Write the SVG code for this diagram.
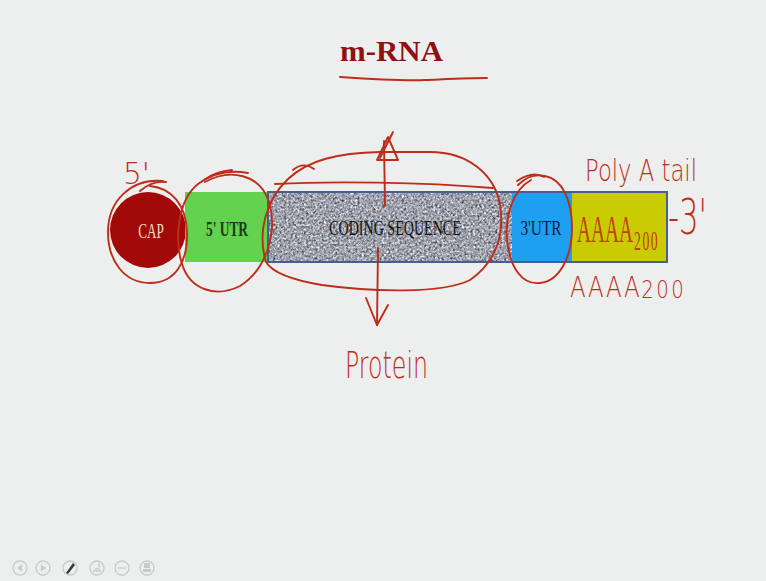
<svg xmlns="http://www.w3.org/2000/svg" width="766" height="581" viewBox="0 0 766 581">
  <defs>
    <!-- speckled grey texture for the coding region -->
    <filter id="grain" x="0" y="0" width="100%" height="100%" color-interpolation-filters="sRGB">
      <feTurbulence type="fractalNoise" baseFrequency="0.45" numOctaves="2" seed="7" result="n"/>
      <feColorMatrix in="n" type="matrix" values="0.6 0.6 0.6 0 -0.28  0.6 0.6 0.6 0 -0.27  0.6 0.6 0.6 0 -0.23  0 0 0 0 1" result="g"/>
      <feComposite in="g" in2="SourceGraphic" operator="in"/>
    </filter>
    <style>
      .slide { font-family: "Liberation Serif", "Times New Roman", serif; }
      .seg { font-size: 22px; text-anchor: middle; }
      .ink { fill: none; stroke: #BE2C1A; stroke-width: 1.9; stroke-linecap: round; stroke-linejoin: round; }
      .hand { font-family: "DejaVu Sans", "Liberation Sans", sans-serif; font-weight: 200; fill: #BE2C1A; }
      .tool { fill: none; stroke: #C9CBCA; stroke-width: 1.3; }
      .toolglyph { fill: #C9CBCA; }
    </style>
  </defs>

  <!-- background -->
  <rect x="0" y="0" width="766" height="581" fill="#EDEFEE"/>

  <!-- title -->
  <g id="title">
    <text class="slide" x="340" y="61" font-size="29" font-weight="bold" fill="#8E1212" textLength="103" lengthAdjust="spacingAndGlyphs">m-RNA</text>
  </g>

  <!-- mRNA segments -->
  <g id="cap">
    <circle cx="148" cy="230" r="38" fill="#A20A0A"/>
    <text class="slide seg" transform="translate(151,238) scale(0.6,1)" font-size="25" fill="#F3DCCB">CAP</text>
  </g>

  <g id="utr5">
    <rect x="185" y="192" width="83" height="70" fill="#63D24E"/>
    <text class="slide seg" transform="translate(227,236) scale(0.61,1)" font-weight="bold" fill="#1B3A1B">5' UTR</text>
  </g>

  <g id="coding">
    <rect x="268" y="192" width="244" height="70" fill="#A2A5AC"/>
    <rect x="268" y="192" width="244" height="70" fill="#fff" filter="url(#grain)"/>
    <text class="slide seg" transform="translate(395,235) scale(0.64,1)" fill="#101214">CODING SEQUENCE</text>
  </g>

  <g id="utr3">
    <rect x="512" y="192" width="60" height="70" fill="#1E9FF0"/>
    <text class="slide seg" transform="translate(541,235) scale(0.7,1)" fill="#0C1C40">3'UTR</text>
  </g>

  <g id="polya">
    <rect x="572" y="192" width="95" height="70" fill="#C9CC02"/>
    <text class="slide" transform="translate(577,242) scale(0.51,1)" font-size="38" fill="#C2400C">AAAA<tspan font-size="27" dy="8" dx="2" letter-spacing="3">200</tspan></text>
  </g>

  <!-- outline of the coding + 3' region -->
  <rect x="268" y="192" width="399" height="70" fill="none" stroke="#4A5E8E" stroke-width="2"/>

  <!-- hand-drawn annotations -->
  <g id="connectors">
    <!-- title underline -->
    <path class="ink" d="M340,77 C370,79 400,81 425,80 C450,79 470,78 487,78"/>
    <!-- loop round the cap -->
    <path class="ink" d="M163,181 C132,178 108,200 108,232 C108,262 125,283 150,283 C175,283 188,262 187,232 C186,205 172,188 150,186"/>
    <path class="ink" d="M140,191 C148,184 156,181 166,182"/>
    <!-- loop round the 5' UTR -->
    <path class="ink" d="M205,182 C230,168 260,174 269,202 C278,232 266,270 240,286 C216,298 190,290 182,264 C174,238 178,200 198,184 C214,172 232,170 248,173"/>
    <path class="ink" d="M204,180 C212,174 220,171 232,170"/>
    <!-- loop round the coding sequence -->
    <path class="ink" d="M266,262 C257,232 266,200 288,179 C308,160 338,153 380,152 L430,152 C468,152 494,174 500,204 C505,234 496,262 470,280 C442,294 372,292 322,285 C292,280 272,272 266,262"/>
    <path class="ink" d="M275,184 C330,181 420,182 493,188"/>
    <path class="ink" d="M293,170 C300,164 307,164 314,169"/>
    <!-- loop round the 3' UTR -->
    <path class="ink" d="M531,180 C513,190 505,215 507,240 C510,268 522,285 540,283 C560,281 572,256 572,228 C572,200 562,179 545,176 C535,174 525,178 518,185"/>
    <path class="ink" d="M517,181 C526,175 535,172 544,177"/>
    <!-- upward arrow to triangle -->
    <path class="ink" d="M385,206 L384,141"/>
    <path class="ink" d="M388,137 L377,160 L398,160 Z"/>
    <path class="ink" d="M393,132 L380,158"/>
    <!-- downward arrow to protein -->
    <path class="ink" d="M378,248 L377,325"/>
    <path class="ink" d="M366,298 L377,325 L388,305"/>
  </g>

  <g id="labels">
    <text class="hand" x="123" y="184" font-size="30" textLength="27" lengthAdjust="spacingAndGlyphs">5'</text>
    <text class="hand" x="585" y="181" font-size="30" textLength="112" lengthAdjust="spacingAndGlyphs">Poly A tail</text>
    <text class="hand" x="668" y="234" font-size="50" textLength="39" lengthAdjust="spacingAndGlyphs">-3'</text>
    <text class="hand" transform="translate(570,297) scale(0.82,1)" font-size="28" letter-spacing="2">AAAA<tspan font-size="24" dy="1" letter-spacing="3">200</tspan></text>
    <text class="hand" x="345" y="378" font-size="38" textLength="83" lengthAdjust="spacingAndGlyphs">Protein</text>
  </g>

  <!-- viewer toolbar -->
  <g id="toolbar">
    <circle class="tool" cx="20" cy="568" r="7"/>
    <path class="toolglyph" d="M17,568 L22,564.5 L22,571.5 Z"/>
    <circle class="tool" cx="43" cy="568" r="7"/>
    <path class="toolglyph" d="M46,568 L41,564.5 L41,571.5 Z"/>
    <circle class="tool" cx="70" cy="568" r="7"/>
    <path d="M66,573 L73,563 L75,565 L68,574 Z" fill="#3A3A3A"/>
    <circle class="tool" cx="97" cy="568" r="7"/>
    <path class="tool" d="M93,571 L101,571 M99,563 L99,569 L95,569"/>
    <circle class="tool" cx="122" cy="568" r="7"/>
    <path class="tool" d="M118,568 L126,568"/>
    <circle class="tool" cx="147" cy="568" r="7"/>
    <rect class="toolglyph" x="144" y="563" width="6" height="5"/>
    <rect class="toolglyph" x="143" y="569" width="8" height="3"/>
  </g>
</svg>
